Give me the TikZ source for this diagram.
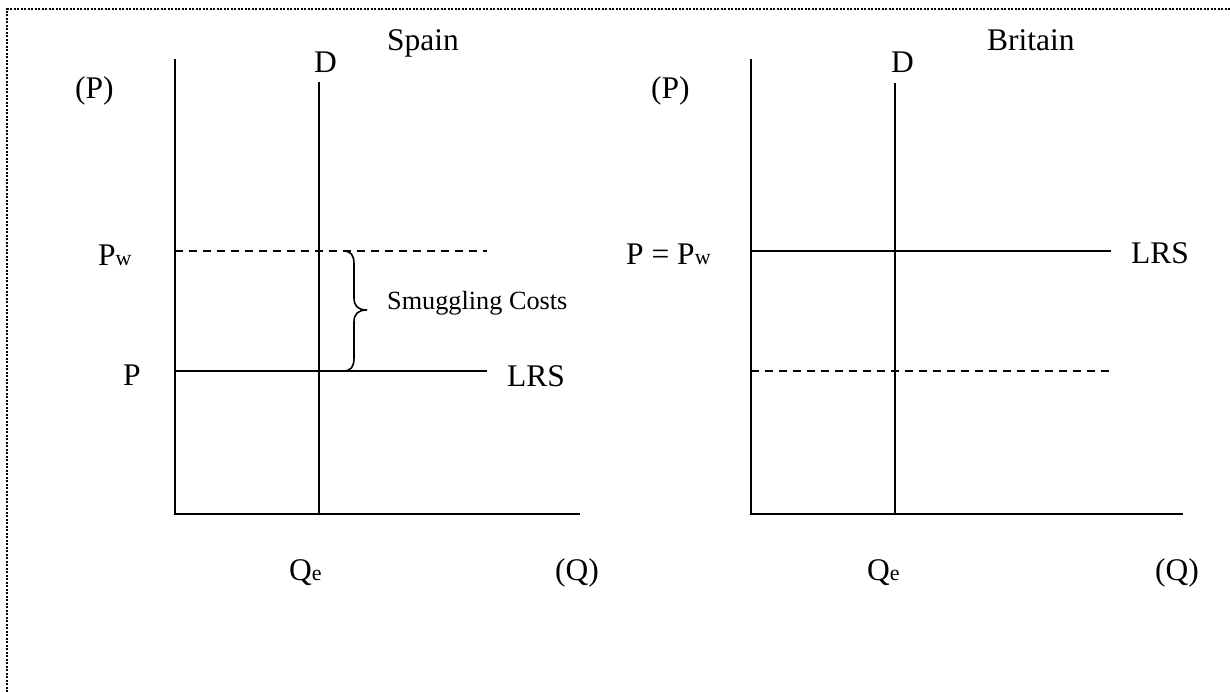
\documentclass[tikz,border=0pt]{standalone}
\usepackage{fontspec}
\setmainfont{Liberation Serif}
\newcommand\mysub[1]{{\fontsize{22}{24}\selectfont #1}}
\begin{document}
\begin{tikzpicture}[x=1pt,y=-1pt,
  lbl/.style={inner sep=0pt,anchor=base west,font=\fontsize{31.5}{36}\selectfont},
  smalllbl/.style={inner sep=0pt,anchor=base west,font=\fontsize{26.25}{30}\selectfont},
  axisline/.style={line width=2pt},
  curveline/.style={line width=2pt},
  dashline/.style={line width=2pt,dash pattern=on 8pt off 6pt},
  frameline/.style={line width=2pt,dash pattern=on 2pt off 1.5pt},
  ]
\useasboundingbox (0,0) rectangle (1230,692);
% frame (top and left only)
\coordinate (fbl) at (7,692);
\coordinate (ftl) at (7,9);
\coordinate (ftr) at (1230,9);
\draw[frameline] (fbl) -- (ftl) -- (ftr);

% ---------- Spain ----------
\coordinate (sO) at (175,514);
\coordinate (sYtop) at (175,59);
\coordinate (sXend) at (580,514);
\coordinate (sDtop) at (319,82);
\coordinate (sDbot) at (319,514);
\coordinate (sPw0) at (175,251);
\coordinate (sPw1) at (487,251);
\coordinate (sP0) at (175,371);
\coordinate (sP1) at (487,371);
\draw[axisline] (sYtop) -- (sO) -- (sXend);
\draw[curveline] (sDtop) -- (sDbot);
\draw[dashline] (sPw0) -- (sPw1);
\draw[curveline] (sP0) -- (sP1);
% brace
\coordinate (bTop) at (343,251);
\coordinate (bBot) at (343,371);
\coordinate (bTip) at (367,310);
\draw[line width=1.6pt] (bTop) .. controls (351,251) and (354,255) .. (354,264)
  -- (354,298) .. controls (354,306) and (358,310) .. (bTip)
  .. controls (358,310) and (354,314) .. (354,322)
  -- (354,358) .. controls (354,367) and (351,371) .. (bBot);

\node[lbl] (sTitle) at (387,51) {Spain};
\node[lbl] (sDlbl) at (314,73) {D};
\node[lbl] (sPax) at (75,99) {(P)};
\node[lbl] (sPwlbl) at (98,266) {P\mysub{w}};
\node[lbl] (sPlbl) at (123,385) {P};
\node[lbl] (sLRS) at (507,386) {LRS};
\node[smalllbl] (sSmug) at (387,309) {Smuggling Costs};
\node[lbl] (sQe) at (289,580) {Q\mysub{e}};
\node[lbl] (sQax) at (555,580) {(Q)};

% ---------- Britain ----------
\coordinate (bO) at (751,514);
\coordinate (bYtop) at (751,59);
\coordinate (bXend) at (1183,514);
\coordinate (bDtop) at (895,83);
\coordinate (bDbot) at (895,514);
\coordinate (bL0) at (751,251);
\coordinate (bL1) at (1111,251);
\coordinate (bd0) at (751,371);
\coordinate (bd1) at (1111,371);
\draw[axisline] (bYtop) -- (bO) -- (bXend);
\draw[curveline] (bDtop) -- (bDbot);
\draw[curveline] (bL0) -- (bL1);
\draw[dashline] (bd0) -- (bd1);

\node[lbl] (bTitle) at (987,51) {Britain};
\node[lbl] (bDlbl) at (891,73) {D};
\node[lbl] (bPax) at (651,99) {(P)};
\node[lbl] (bPPw) at (626,265) {P = P\mysub{w}};
\node[lbl] (bLRS) at (1131,264) {LRS};
\node[lbl] (bQe) at (867,580) {Q\mysub{e}};
\node[lbl] (bQax) at (1155,580) {(Q)};
\end{tikzpicture}
\end{document}
